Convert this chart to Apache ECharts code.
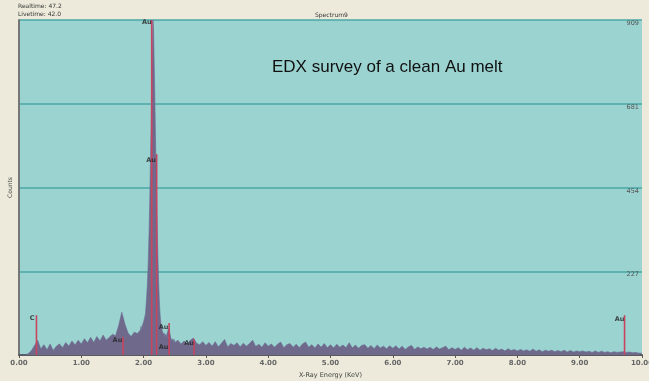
<!DOCTYPE html>
<html>
<head>
<meta charset="utf-8">
<script src="https://cdn.jsdelivr.net/npm/echarts@6/dist/echarts.min.js"></script>
<style>
  html, body { margin: 0; padding: 0; background: #edeadb; }
  #chart { width: 649px; height: 381px; }
</style>
</head>
<body>
<div id="chart"></div>
<script>
// counts, in three channel blocks
const lowStart = 0.0, lowStep = 0.05;
const lowCounts = [0, 0, 0, 4, 12, 26, 40, 16, 28, 14, 30, 12, 24, 30, 20, 34, 24, 38, 27, 40,
  30, 44, 33, 48, 34, 50, 38, 54, 40, 48, 56, 52, 80, 116, 84, 60, 50, 62, 58];

const peakStart = 1.95, peakStep = 0.01;
const peakCounts = [68, 78, 66, 80, 76, 90, 88, 104, 112, 135, 160, 190, 230, 285, 350, 430, 520, 615, 720, 830,
  909, 880, 790, 700, 600, 505, 415, 335, 265, 205, 158, 122, 98, 82, 72, 66, 62, 54, 60, 50,
  56, 46, 54, 58, 66, 72, 70, 60, 52, 44, 48, 38, 44, 36, 42, 34];

const highStart = 2.55, highStep = 0.05;
const highCounts = [40, 30, 38, 29, 40, 46, 32, 28, 36, 26,
  34, 24, 36, 22, 32, 42, 22, 31, 26, 33,
  22, 32, 24, 31, 40, 23, 29, 21, 33, 24,
  30, 21, 29, 35, 20, 28, 31, 21, 29, 20,
  30, 35, 21, 28, 19, 30, 21, 31, 20, 28,
  19, 29, 21, 27, 20, 33, 19, 27, 18, 26,
  28, 18, 26, 17, 27, 19, 24, 17, 25, 18,
  25, 16, 24, 15, 22, 26, 15, 22, 17, 21,
  16, 21, 15, 22, 16, 20, 24, 14, 20, 15,
  20, 13, 21, 14, 19, 13, 20, 13, 18, 14,
  17, 12, 18, 13, 16, 11, 17, 12, 15, 11,
  15, 11, 14, 10, 16, 10, 14, 9, 13, 10,
  13, 9, 12, 9, 13, 8, 12, 8, 11, 9,
  11, 8, 10, 7, 11, 7, 10, 7, 9, 6,
  9, 7, 8, 9, 7, 8, 6, 7, 5, 5];

// element marker lines: energy (keV), height (counts)
const markerEnergy = [0.28, 1.67, 2.13, 2.21, 2.41, 2.81, 9.72];
const markerHeight = [108, 49, 909, 545, 87, 43, 108];

// marker labels: text, energy, counts (label centre)
const labelText = ['C', 'Au', 'Au', 'Au', 'Au', 'Au', 'Au', 'Au'];
const labelEnergy = [0.21, 1.58, 2.05, 2.12, 2.32, 2.32, 2.73, 9.64];
const labelCounts = [100, 41, 902, 528, 76, 22, 33, 98];

const xTicks = [0, 1, 2, 3, 4, 5, 6, 7, 8, 9, 10];
const countTicks = [227, 454, 681, 909];

function block(start, step, counts) {
  return counts.map((c, i) => [+(start + i * step).toFixed(2), c]);
}
const spectrum = block(lowStart, lowStep, lowCounts)
  .concat(block(peakStart, peakStep, peakCounts))
  .concat(block(highStart, highStep, highCounts));

const chart = echarts.init(document.getElementById('chart'), null, { renderer: 'canvas' });

const yMax = countTicks[countTicks.length - 1];
const smallFont = 'DejaVu Sans';

const option = {
  backgroundColor: '#edeadb',
  animation: false,
  title: {
    text: 'EDX survey of a clean Au melt',
    left: 267,
    top: 54,
    textStyle: { fontFamily: 'Liberation Sans', fontSize: 17, fontWeight: 'normal', color: '#111' }
  },
  graphic: [
    { type: 'text', left: 18, top: 3, style: { text: 'Realtime: 47.2', font: '6px ' + smallFont, fill: '#333' } },
    { type: 'text', left: 18, top: 11, style: { text: 'Livetime: 42.0', font: '6px ' + smallFont, fill: '#333' } },
    { type: 'text', left: 315, top: 12, style: { text: 'Spectrum9', font: '6px ' + smallFont, fill: '#333' } }
  ],
  grid: {
    left: 19, right: 7, top: 20, bottom: 26,
    outerBoundsMode: 'none', containLabel: false,
    show: true, backgroundColor: '#9ad3d0', borderWidth: 0
  },
  xAxis: [
    {
      type: 'value', min: xTicks[0], max: xTicks[xTicks.length - 1], interval: 1,
      axisLine: { lineStyle: { color: '#555', width: 1.5 } },
      axisTick: { length: 3, lineStyle: { color: '#555' } },
      axisLabel: {
        formatter: (v) => v.toFixed(2), fontSize: 7, fontWeight: 'bold', color: '#666',
        fontFamily: smallFont, margin: 5
      },
      splitLine: { show: false },
      name: 'X-Ray Energy (KeV)', nameLocation: 'middle', nameGap: 14,
      nameTextStyle: { fontSize: 6.5, color: '#444', fontFamily: smallFont }
    },
    {
      type: 'value', position: 'top', min: xTicks[0], max: xTicks[xTicks.length - 1], interval: 1,
      axisLine: { lineStyle: { color: '#555', width: 1.5 } },
      axisTick: { inside: true, length: 3, lineStyle: { color: '#555' } },
      axisLabel: { show: false },
      splitLine: { show: false }
    }
  ],
  yAxis: [
    {
      type: 'value', min: 0, max: yMax, interval: yMax / 4,
      axisLine: { show: true, lineStyle: { color: '#555', width: 1.5 } },
      axisTick: { show: false },
      axisLabel: { show: false },
      splitLine: { lineStyle: { color: '#4aa9a6', width: 1.5 } },
      name: 'Counts', nameLocation: 'middle', nameGap: 6, nameRotate: 90,
      nameTextStyle: { fontSize: 6, color: '#444', fontFamily: smallFont }
    },
    {
      type: 'value', position: 'right', min: 0, max: yMax, interval: yMax / 4,
      axisLine: { show: true, lineStyle: { color: '#777', width: 1.5 } },
      axisTick: { show: false },
      splitLine: { show: false },
      axisLabel: {
        inside: true, showMinLabel: false, verticalAlign: 'top', margin: 3,
        formatter: (v) => String(Math.floor(v)), fontSize: 6.5, color: '#555', fontFamily: smallFont
      }
    }
  ],
  series: [
    {
      name: 'spectrum', type: 'line', data: spectrum, showSymbol: false, symbol: 'none',
      sampling: null, z: 2,
      lineStyle: { color: '#6d6890', width: 0.6 },
      areaStyle: { color: '#6f6a8c', opacity: 1 }
    },
    {
      name: 'markers', type: 'bar', barWidth: 1.6, z: 3,
      data: markerEnergy.map((e, i) => [e, markerHeight[i]]),
      itemStyle: { color: '#c8445f' }
    },
    {
      name: 'labels', type: 'scatter', symbolSize: 0, z: 4,
      data: labelEnergy.map((e, i) => ({ value: [e, labelCounts[i]], name: labelText[i] })),
      label: {
        show: true, position: 'inside', formatter: (p) => p.name,
        fontSize: 6.5, fontWeight: 'bold', color: '#222', fontFamily: smallFont
      }
    }
  ]
};

chart.setOption(option);
</script>
</body>
</html>
